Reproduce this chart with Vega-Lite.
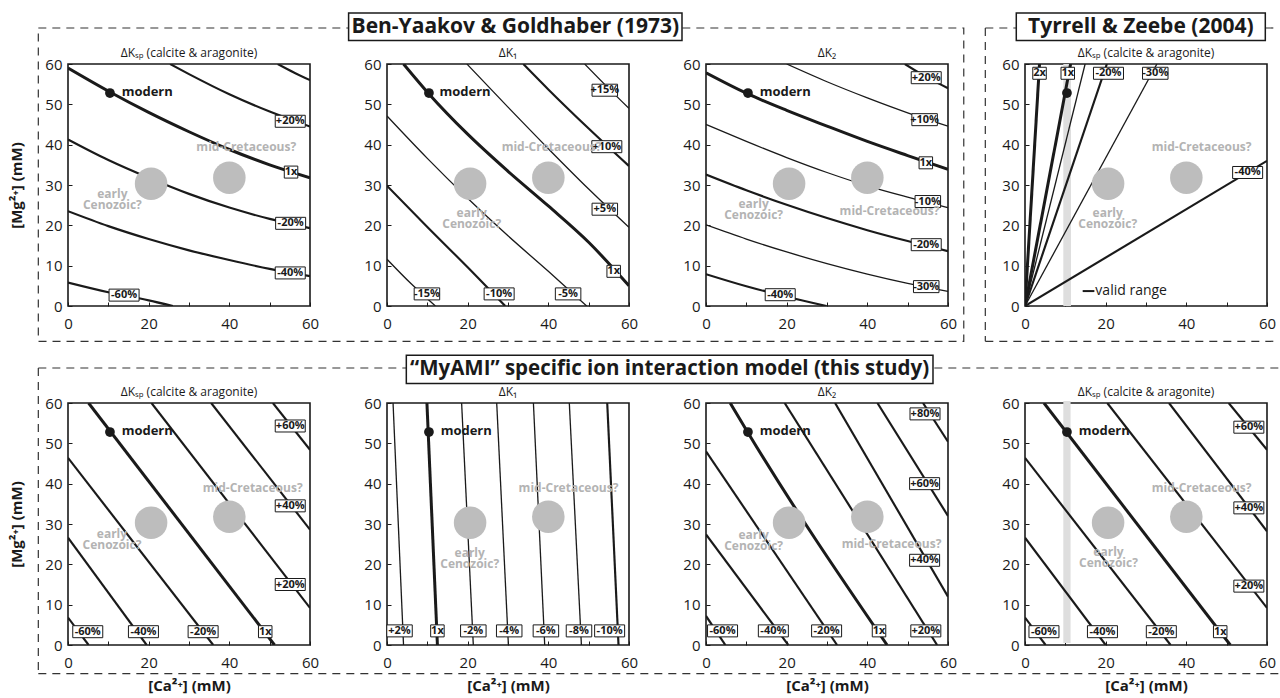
{
"$schema": "https://vega.github.io/schema/vega-lite/v6.json",
"background": "white",
"padding": {"left": 9, "top": 11, "right": 0, "bottom": 0},
"columns": 4,
"spacing": {"row": 97, "column": 77},
"bounds": "flush",
"config": {
  "font": "Open Sans",
  "view": {"stroke": "#1a1a1a", "strokeWidth": 1.6},
  "axis": {"domain": false, "grid": false, "tickSize": -4, "tickColor": "#1a1a1a", "tickWidth": 1, "labelFontSize": 15, "labelColor": "#1a1a1a", "labelFlush": false, "labelOverlap": false, "titleFontSize": 15, "titleFontWeight": "bold", "titleColor": "#1a1a1a"},
  "axisX": {"labelPadding": 14},
  "axisY": {"labelPadding": 10}
},
"datasets": {
  "sites": [
    {"site": "modern", "ca": 10.4, "mg": 52.8},
    {"site": "early Cenozoic", "ca": 20.6, "mg": 30.3},
    {"site": "mid-Cretaceous", "ca": 40, "mg": 31.8}
  ],
  "valid": [
    {"panel": 4, "ca": 9.5, "ca2": 11.4, "mg": 0, "mg2": 60},
    {"panel": 8, "ca": 9.5, "ca2": 11.3, "mg": 0.5, "mg2": 60.5}
  ],
  "notes": [
    {"panel": 1, "note": "modern", "ca": 13.3, "mg": 53.1},
    {"panel": 1, "note": "mid-Cretaceous?", "ca": 44.2, "mg": 39.3},
    {"panel": 1, "note": "early\nCenozoic?", "ca": 11, "mg": 28.9},
    {"panel": 2, "note": "modern", "ca": 13, "mg": 53.1},
    {"panel": 2, "note": "mid-Cretaceous?", "ca": 40.8, "mg": 39.3},
    {"panel": 2, "note": "early\nCenozoic?", "ca": 21, "mg": 24.4},
    {"panel": 3, "note": "modern", "ca": 13.3, "mg": 53.1},
    {"panel": 3, "note": "mid-Cretaceous?", "ca": 45.5, "mg": 23.6},
    {"panel": 3, "note": "early\nCenozoic?", "ca": 11.8, "mg": 26.5},
    {"panel": 4, "note": "mid-Cretaceous?", "ca": 43.8, "mg": 39.3},
    {"panel": 4, "note": "early\nCenozoic?", "ca": 20.5, "mg": 24.4},
    {"panel": 5, "note": "modern", "ca": 13.3, "mg": 53.1},
    {"panel": 5, "note": "mid-Cretaceous?", "ca": 45.8, "mg": 39},
    {"panel": 5, "note": "early\nCenozoic?", "ca": 10.9, "mg": 28.7},
    {"panel": 6, "note": "modern", "ca": 13.3, "mg": 53.1},
    {"panel": 6, "note": "mid-Cretaceous?", "ca": 45, "mg": 39},
    {"panel": 6, "note": "early\nCenozoic?", "ca": 20.5, "mg": 24.1},
    {"panel": 7, "note": "modern", "ca": 13.3, "mg": 53.1},
    {"panel": 7, "note": "mid-Cretaceous?", "ca": 46, "mg": 25},
    {"panel": 7, "note": "early\nCenozoic?", "ca": 11.8, "mg": 28.4},
    {"panel": 8, "note": "modern", "ca": 13.3, "mg": 53.1},
    {"panel": 8, "note": "mid-Cretaceous?", "ca": 43.8, "mg": 39},
    {"panel": 8, "note": "early\nCenozoic?", "ca": 20.7, "mg": 24.3}
  ],
  "labels": [
    {"panel": 1, "level": "+20%", "kind": "major", "ca": 55.1, "mg": 45.8},
    {"panel": 1, "level": "1x", "kind": "ref", "ca": 55.3, "mg": 33.2},
    {"panel": 1, "level": "-20%", "kind": "major", "ca": 55.2, "mg": 20.5},
    {"panel": 1, "level": "-40%", "kind": "major", "ca": 55.1, "mg": 8.2},
    {"panel": 1, "level": "-60%", "kind": "major", "ca": 13.9, "mg": 2.7},
    {"panel": 2, "level": "+15%", "kind": "minor", "ca": 54, "mg": 53.5},
    {"panel": 2, "level": "+10%", "kind": "major", "ca": 54.5, "mg": 39.5},
    {"panel": 2, "level": "+5%", "kind": "minor", "ca": 54, "mg": 24},
    {"panel": 2, "level": "1x", "kind": "ref", "ca": 56.2, "mg": 8.6},
    {"panel": 2, "level": "-5%", "kind": "minor", "ca": 44.9, "mg": 3},
    {"panel": 2, "level": "-10%", "kind": "major", "ca": 27.8, "mg": 3},
    {"panel": 2, "level": "-15%", "kind": "minor", "ca": 9.9, "mg": 3},
    {"panel": 3, "level": "+20%", "kind": "major", "ca": 54.6, "mg": 56.6},
    {"panel": 3, "level": "+10%", "kind": "minor", "ca": 54.2, "mg": 46.2},
    {"panel": 3, "level": "1x", "kind": "ref", "ca": 54.5, "mg": 35.5},
    {"panel": 3, "level": "-10%", "kind": "minor", "ca": 55, "mg": 25.9},
    {"panel": 3, "level": "-20%", "kind": "major", "ca": 54.6, "mg": 15.2},
    {"panel": 3, "level": "-30%", "kind": "minor", "ca": 54.6, "mg": 4.8},
    {"panel": 3, "level": "-40%", "kind": "major", "ca": 18.4, "mg": 2.8},
    {"panel": 4, "level": "2x", "kind": "ref", "ca": 3.6, "mg": 57.7},
    {"panel": 4, "level": "1x", "kind": "ref", "ca": 10.6, "mg": 57.7},
    {"panel": 4, "level": "-20%", "kind": "major", "ca": 20.7, "mg": 57.7},
    {"panel": 4, "level": "-30%", "kind": "minor", "ca": 32.3, "mg": 57.7},
    {"panel": 4, "level": "-40%", "kind": "major", "ca": 55.2, "mg": 33.1},
    {"panel": 5, "level": "+60%", "kind": "major", "ca": 55.1, "mg": 54.3},
    {"panel": 5, "level": "+40%", "kind": "major", "ca": 55.1, "mg": 34.5},
    {"panel": 5, "level": "+20%", "kind": "major", "ca": 55.1, "mg": 15},
    {"panel": 5, "level": "1x", "kind": "ref", "ca": 48.9, "mg": 3.3},
    {"panel": 5, "level": "-20%", "kind": "major", "ca": 33.5, "mg": 3.3},
    {"panel": 5, "level": "-40%", "kind": "major", "ca": 18.7, "mg": 3.3},
    {"panel": 5, "level": "-60%", "kind": "major", "ca": 4.9, "mg": 3.3},
    {"panel": 6, "level": "+2%", "kind": "minor", "ca": 3.1, "mg": 3.5},
    {"panel": 6, "level": "1x", "kind": "ref", "ca": 12.5, "mg": 3.5},
    {"panel": 6, "level": "-2%", "kind": "minor", "ca": 21.4, "mg": 3.5},
    {"panel": 6, "level": "-4%", "kind": "minor", "ca": 30.3, "mg": 3.5},
    {"panel": 6, "level": "-6%", "kind": "minor", "ca": 39.4, "mg": 3.5},
    {"panel": 6, "level": "-8%", "kind": "minor", "ca": 47.6, "mg": 3.5},
    {"panel": 6, "level": "-10%", "kind": "major", "ca": 55.2, "mg": 3.5},
    {"panel": 7, "level": "+80%", "kind": "major", "ca": 54.3, "mg": 57.3},
    {"panel": 7, "level": "+60%", "kind": "major", "ca": 54.2, "mg": 40},
    {"panel": 7, "level": "+40%", "kind": "major", "ca": 54.2, "mg": 21},
    {"panel": 7, "level": "+20%", "kind": "major", "ca": 54.5, "mg": 3.5},
    {"panel": 7, "level": "1x", "kind": "ref", "ca": 42.9, "mg": 3.5},
    {"panel": 7, "level": "-20%", "kind": "major", "ca": 29.9, "mg": 3.5},
    {"panel": 7, "level": "-40%", "kind": "major", "ca": 16.7, "mg": 3.5},
    {"panel": 7, "level": "-60%", "kind": "major", "ca": 4.1, "mg": 3.5},
    {"panel": 8, "level": "+60%", "kind": "major", "ca": 55.5, "mg": 54},
    {"panel": 8, "level": "+40%", "kind": "major", "ca": 55.5, "mg": 34},
    {"panel": 8, "level": "+20%", "kind": "major", "ca": 55.5, "mg": 14.6},
    {"panel": 8, "level": "1x", "kind": "ref", "ca": 48.4, "mg": 3.3},
    {"panel": 8, "level": "-20%", "kind": "major", "ca": 33.8, "mg": 3.3},
    {"panel": 8, "level": "-40%", "kind": "major", "ca": 19.2, "mg": 3.3},
    {"panel": 8, "level": "-60%", "kind": "major", "ca": 4.7, "mg": 3.3}
  ],
  "contours": [
    {"panel": 1, "level": "+40%", "kind": "major", "ca": 52, "mg": 60},
    {"panel": 1, "level": "+40%", "kind": "major", "ca": 56, "mg": 57.9},
    {"panel": 1, "level": "+40%", "kind": "major", "ca": 60, "mg": 56},
    {"panel": 1, "level": "+20%", "kind": "major", "ca": 25.3, "mg": 60},
    {"panel": 1, "level": "+20%", "kind": "major", "ca": 30, "mg": 57.5},
    {"panel": 1, "level": "+20%", "kind": "major", "ca": 40, "mg": 52.5},
    {"panel": 1, "level": "+20%", "kind": "major", "ca": 50, "mg": 48.2},
    {"panel": 1, "level": "+20%", "kind": "major", "ca": 60, "mg": 44.5},
    {"panel": 1, "level": "1x", "kind": "ref", "ca": 0, "mg": 59},
    {"panel": 1, "level": "1x", "kind": "ref", "ca": 10.5, "mg": 53},
    {"panel": 1, "level": "1x", "kind": "ref", "ca": 20, "mg": 48},
    {"panel": 1, "level": "1x", "kind": "ref", "ca": 30, "mg": 43.2},
    {"panel": 1, "level": "1x", "kind": "ref", "ca": 40, "mg": 38.8},
    {"panel": 1, "level": "1x", "kind": "ref", "ca": 50, "mg": 35},
    {"panel": 1, "level": "1x", "kind": "ref", "ca": 60, "mg": 31.8},
    {"panel": 1, "level": "-20%", "kind": "major", "ca": 0, "mg": 41.3},
    {"panel": 1, "level": "-20%", "kind": "major", "ca": 10, "mg": 36.2},
    {"panel": 1, "level": "-20%", "kind": "major", "ca": 20, "mg": 31.8},
    {"panel": 1, "level": "-20%", "kind": "major", "ca": 30, "mg": 27.8},
    {"panel": 1, "level": "-20%", "kind": "major", "ca": 40, "mg": 24.4},
    {"panel": 1, "level": "-20%", "kind": "major", "ca": 50, "mg": 21.6},
    {"panel": 1, "level": "-20%", "kind": "major", "ca": 60, "mg": 19.3},
    {"panel": 1, "level": "-40%", "kind": "major", "ca": 0, "mg": 23.5},
    {"panel": 1, "level": "-40%", "kind": "major", "ca": 10, "mg": 19.8},
    {"panel": 1, "level": "-40%", "kind": "major", "ca": 20, "mg": 16.6},
    {"panel": 1, "level": "-40%", "kind": "major", "ca": 30, "mg": 13.8},
    {"panel": 1, "level": "-40%", "kind": "major", "ca": 40, "mg": 11.4},
    {"panel": 1, "level": "-40%", "kind": "major", "ca": 50, "mg": 9.2},
    {"panel": 1, "level": "-40%", "kind": "major", "ca": 60, "mg": 7.4},
    {"panel": 1, "level": "-60%", "kind": "major", "ca": 0, "mg": 5.8},
    {"panel": 1, "level": "-60%", "kind": "major", "ca": 10, "mg": 3.4},
    {"panel": 1, "level": "-60%", "kind": "major", "ca": 20, "mg": 1.4},
    {"panel": 1, "level": "-60%", "kind": "major", "ca": 26, "mg": 0},
    {"panel": 2, "level": "+15%", "kind": "minor", "ca": 49, "mg": 60},
    {"panel": 2, "level": "+15%", "kind": "minor", "ca": 54.5, "mg": 54.4},
    {"panel": 2, "level": "+15%", "kind": "minor", "ca": 60, "mg": 49},
    {"panel": 2, "level": "+10%", "kind": "major", "ca": 33.8, "mg": 60},
    {"panel": 2, "level": "+10%", "kind": "major", "ca": 40, "mg": 53.7},
    {"panel": 2, "level": "+10%", "kind": "major", "ca": 50, "mg": 44},
    {"panel": 2, "level": "+10%", "kind": "major", "ca": 60, "mg": 34.7},
    {"panel": 2, "level": "+5%", "kind": "minor", "ca": 19.8, "mg": 60},
    {"panel": 2, "level": "+5%", "kind": "minor", "ca": 30, "mg": 49.3},
    {"panel": 2, "level": "+5%", "kind": "minor", "ca": 40, "mg": 39},
    {"panel": 2, "level": "+5%", "kind": "minor", "ca": 50, "mg": 29},
    {"panel": 2, "level": "+5%", "kind": "minor", "ca": 60, "mg": 19.5},
    {"panel": 2, "level": "1x", "kind": "ref", "ca": 4.1, "mg": 60},
    {"panel": 2, "level": "1x", "kind": "ref", "ca": 10.3, "mg": 52.7},
    {"panel": 2, "level": "1x", "kind": "ref", "ca": 20, "mg": 42.6},
    {"panel": 2, "level": "1x", "kind": "ref", "ca": 30, "mg": 33.4},
    {"panel": 2, "level": "1x", "kind": "ref", "ca": 40, "mg": 24.8},
    {"panel": 2, "level": "1x", "kind": "ref", "ca": 50, "mg": 15.8},
    {"panel": 2, "level": "1x", "kind": "ref", "ca": 60, "mg": 5},
    {"panel": 2, "level": "-5%", "kind": "minor", "ca": 0, "mg": 47.1},
    {"panel": 2, "level": "-5%", "kind": "minor", "ca": 10, "mg": 36.6},
    {"panel": 2, "level": "-5%", "kind": "minor", "ca": 20, "mg": 26.7},
    {"panel": 2, "level": "-5%", "kind": "minor", "ca": 30, "mg": 17.4},
    {"panel": 2, "level": "-5%", "kind": "minor", "ca": 40, "mg": 8.6},
    {"panel": 2, "level": "-5%", "kind": "minor", "ca": 49.5, "mg": 0},
    {"panel": 2, "level": "-10%", "kind": "major", "ca": 0, "mg": 29.8},
    {"panel": 2, "level": "-10%", "kind": "major", "ca": 10, "mg": 19.6},
    {"panel": 2, "level": "-10%", "kind": "major", "ca": 20, "mg": 9.6},
    {"panel": 2, "level": "-10%", "kind": "major", "ca": 29.3, "mg": 0},
    {"panel": 2, "level": "-15%", "kind": "minor", "ca": 0, "mg": 11.6},
    {"panel": 2, "level": "-15%", "kind": "minor", "ca": 6, "mg": 5.5},
    {"panel": 2, "level": "-15%", "kind": "minor", "ca": 12, "mg": 0},
    {"panel": 3, "level": "+20%", "kind": "major", "ca": 49.3, "mg": 60},
    {"panel": 3, "level": "+20%", "kind": "major", "ca": 54.6, "mg": 56.8},
    {"panel": 3, "level": "+20%", "kind": "major", "ca": 60, "mg": 54},
    {"panel": 3, "level": "+10%", "kind": "minor", "ca": 20, "mg": 60},
    {"panel": 3, "level": "+10%", "kind": "minor", "ca": 30, "mg": 55.6},
    {"panel": 3, "level": "+10%", "kind": "minor", "ca": 40, "mg": 51.6},
    {"panel": 3, "level": "+10%", "kind": "minor", "ca": 50, "mg": 47.9},
    {"panel": 3, "level": "+10%", "kind": "minor", "ca": 60, "mg": 44.6},
    {"panel": 3, "level": "1x", "kind": "ref", "ca": 0, "mg": 57.8},
    {"panel": 3, "level": "1x", "kind": "ref", "ca": 10.1, "mg": 52.7},
    {"panel": 3, "level": "1x", "kind": "ref", "ca": 20, "mg": 48.5},
    {"panel": 3, "level": "1x", "kind": "ref", "ca": 30, "mg": 44.6},
    {"panel": 3, "level": "1x", "kind": "ref", "ca": 40, "mg": 40.8},
    {"panel": 3, "level": "1x", "kind": "ref", "ca": 50, "mg": 37.3},
    {"panel": 3, "level": "1x", "kind": "ref", "ca": 60, "mg": 33.9},
    {"panel": 3, "level": "-10%", "kind": "minor", "ca": 0, "mg": 45},
    {"panel": 3, "level": "-10%", "kind": "minor", "ca": 10, "mg": 40.8},
    {"panel": 3, "level": "-10%", "kind": "minor", "ca": 20, "mg": 36.8},
    {"panel": 3, "level": "-10%", "kind": "minor", "ca": 30, "mg": 33.1},
    {"panel": 3, "level": "-10%", "kind": "minor", "ca": 40, "mg": 29.8},
    {"panel": 3, "level": "-10%", "kind": "minor", "ca": 50, "mg": 27},
    {"panel": 3, "level": "-10%", "kind": "minor", "ca": 60, "mg": 24.4},
    {"panel": 3, "level": "-20%", "kind": "major", "ca": 0, "mg": 32.6},
    {"panel": 3, "level": "-20%", "kind": "major", "ca": 10, "mg": 28.7},
    {"panel": 3, "level": "-20%", "kind": "major", "ca": 20, "mg": 25.1},
    {"panel": 3, "level": "-20%", "kind": "major", "ca": 30, "mg": 21.8},
    {"panel": 3, "level": "-20%", "kind": "major", "ca": 40, "mg": 18.8},
    {"panel": 3, "level": "-20%", "kind": "major", "ca": 50, "mg": 16.1},
    {"panel": 3, "level": "-20%", "kind": "major", "ca": 60, "mg": 13.6},
    {"panel": 3, "level": "-30%", "kind": "minor", "ca": 0, "mg": 20.1},
    {"panel": 3, "level": "-30%", "kind": "minor", "ca": 10, "mg": 16.6},
    {"panel": 3, "level": "-30%", "kind": "minor", "ca": 20, "mg": 13.4},
    {"panel": 3, "level": "-30%", "kind": "minor", "ca": 30, "mg": 10.5},
    {"panel": 3, "level": "-30%", "kind": "minor", "ca": 40, "mg": 7.9},
    {"panel": 3, "level": "-30%", "kind": "minor", "ca": 50, "mg": 5.6},
    {"panel": 3, "level": "-30%", "kind": "minor", "ca": 60, "mg": 3.6},
    {"panel": 3, "level": "-40%", "kind": "major", "ca": 0, "mg": 7.9},
    {"panel": 3, "level": "-40%", "kind": "major", "ca": 10, "mg": 4.9},
    {"panel": 3, "level": "-40%", "kind": "major", "ca": 20, "mg": 2.3},
    {"panel": 3, "level": "-40%", "kind": "major", "ca": 29.9, "mg": 0},
    {"panel": 4, "level": "2x", "kind": "ref", "ca": 0, "mg": 0},
    {"panel": 4, "level": "2x", "kind": "ref", "ca": 3.6, "mg": 60},
    {"panel": 4, "level": "1x", "kind": "ref", "ca": 0, "mg": 0},
    {"panel": 4, "level": "1x", "kind": "ref", "ca": 11.3, "mg": 60},
    {"panel": 4, "level": "-10%", "kind": "minor", "ca": 0, "mg": 0},
    {"panel": 4, "level": "-10%", "kind": "minor", "ca": 14.9, "mg": 60},
    {"panel": 4, "level": "-20%", "kind": "major", "ca": 0, "mg": 0},
    {"panel": 4, "level": "-20%", "kind": "major", "ca": 20.3, "mg": 60},
    {"panel": 4, "level": "-30%", "kind": "minor", "ca": 0, "mg": 0},
    {"panel": 4, "level": "-30%", "kind": "minor", "ca": 32.7, "mg": 60},
    {"panel": 4, "level": "-40%", "kind": "major", "ca": 0, "mg": 0},
    {"panel": 4, "level": "-40%", "kind": "major", "ca": 60, "mg": 36},
    {"panel": 5, "level": "+60%", "kind": "major", "ca": 50.8, "mg": 60},
    {"panel": 5, "level": "+60%", "kind": "major", "ca": 60, "mg": 48.4},
    {"panel": 5, "level": "+40%", "kind": "major", "ca": 35.5, "mg": 60},
    {"panel": 5, "level": "+40%", "kind": "major", "ca": 60, "mg": 28.6},
    {"panel": 5, "level": "+20%", "kind": "major", "ca": 20.7, "mg": 60},
    {"panel": 5, "level": "+20%", "kind": "major", "ca": 60, "mg": 9.2},
    {"panel": 5, "level": "1x", "kind": "ref", "ca": 5.1, "mg": 60},
    {"panel": 5, "level": "1x", "kind": "ref", "ca": 51.2, "mg": 0},
    {"panel": 5, "level": "-20%", "kind": "major", "ca": 0, "mg": 46.4},
    {"panel": 5, "level": "-20%", "kind": "major", "ca": 36, "mg": 0},
    {"panel": 5, "level": "-40%", "kind": "major", "ca": 0, "mg": 26.6},
    {"panel": 5, "level": "-40%", "kind": "major", "ca": 19.5, "mg": 0},
    {"panel": 5, "level": "-60%", "kind": "major", "ca": 0, "mg": 6.8},
    {"panel": 5, "level": "-60%", "kind": "major", "ca": 5.1, "mg": 0},
    {"panel": 6, "level": "+2%", "kind": "minor", "ca": 1.5, "mg": 60},
    {"panel": 6, "level": "+2%", "kind": "minor", "ca": 4.1, "mg": 0},
    {"panel": 6, "level": "1x", "kind": "ref", "ca": 9.9, "mg": 60},
    {"panel": 6, "level": "1x", "kind": "ref", "ca": 12.5, "mg": 0},
    {"panel": 6, "level": "-2%", "kind": "minor", "ca": 18.5, "mg": 60},
    {"panel": 6, "level": "-2%", "kind": "minor", "ca": 21.4, "mg": 0},
    {"panel": 6, "level": "-4%", "kind": "minor", "ca": 27.2, "mg": 60},
    {"panel": 6, "level": "-4%", "kind": "minor", "ca": 30.1, "mg": 0},
    {"panel": 6, "level": "-6%", "kind": "minor", "ca": 36.3, "mg": 60},
    {"panel": 6, "level": "-6%", "kind": "minor", "ca": 39.1, "mg": 0},
    {"panel": 6, "level": "-8%", "kind": "minor", "ca": 45.2, "mg": 60},
    {"panel": 6, "level": "-8%", "kind": "minor", "ca": 48.2, "mg": 0},
    {"panel": 6, "level": "-10%", "kind": "major", "ca": 54.6, "mg": 60},
    {"panel": 6, "level": "-10%", "kind": "major", "ca": 57.4, "mg": 0},
    {"panel": 7, "level": "+80%", "kind": "major", "ca": 53.8, "mg": 60},
    {"panel": 7, "level": "+80%", "kind": "major", "ca": 60, "mg": 50.4},
    {"panel": 7, "level": "+60%", "kind": "major", "ca": 42.5, "mg": 60},
    {"panel": 7, "level": "+60%", "kind": "major", "ca": 60, "mg": 32},
    {"panel": 7, "level": "+40%", "kind": "major", "ca": 32, "mg": 60},
    {"panel": 7, "level": "+40%", "kind": "major", "ca": 60, "mg": 12},
    {"panel": 7, "level": "+20%", "kind": "major", "ca": 19.5, "mg": 60},
    {"panel": 7, "level": "+20%", "kind": "major", "ca": 57.3, "mg": 0},
    {"panel": 7, "level": "1x", "kind": "ref", "ca": 6, "mg": 60},
    {"panel": 7, "level": "1x", "kind": "ref", "ca": 10.3, "mg": 52.8},
    {"panel": 7, "level": "1x", "kind": "ref", "ca": 44.9, "mg": 0},
    {"panel": 7, "level": "-20%", "kind": "major", "ca": 0, "mg": 48},
    {"panel": 7, "level": "-20%", "kind": "major", "ca": 32.5, "mg": 0},
    {"panel": 7, "level": "-40%", "kind": "major", "ca": 0, "mg": 27.4},
    {"panel": 7, "level": "-40%", "kind": "major", "ca": 20.4, "mg": 0},
    {"panel": 7, "level": "-60%", "kind": "major", "ca": 0, "mg": 7.2},
    {"panel": 7, "level": "-60%", "kind": "major", "ca": 4.8, "mg": 0},
    {"panel": 8, "level": "+60%", "kind": "major", "ca": 50.5, "mg": 60},
    {"panel": 8, "level": "+60%", "kind": "major", "ca": 60, "mg": 48.4},
    {"panel": 8, "level": "+40%", "kind": "major", "ca": 35.7, "mg": 60},
    {"panel": 8, "level": "+40%", "kind": "major", "ca": 60, "mg": 28.2},
    {"panel": 8, "level": "+20%", "kind": "major", "ca": 20.4, "mg": 60},
    {"panel": 8, "level": "+20%", "kind": "major", "ca": 60, "mg": 9.2},
    {"panel": 8, "level": "1x", "kind": "ref", "ca": 4.7, "mg": 60},
    {"panel": 8, "level": "1x", "kind": "ref", "ca": 50.9, "mg": 0},
    {"panel": 8, "level": "-20%", "kind": "major", "ca": 0, "mg": 46.4},
    {"panel": 8, "level": "-20%", "kind": "major", "ca": 36.1, "mg": 0},
    {"panel": 8, "level": "-40%", "kind": "major", "ca": 0, "mg": 26.6},
    {"panel": 8, "level": "-40%", "kind": "major", "ca": 20, "mg": 0},
    {"panel": 8, "level": "-60%", "kind": "major", "ca": 0, "mg": 6.8},
    {"panel": 8, "level": "-60%", "kind": "major", "ca": 5.1, "mg": 0}
  ]
},
"concat": [
{
  "width": 242, "height": 242,
  "layer": [
    {"data": {"name": "contours"}, "transform": [{"filter": "datum.panel === 1"}], "mark": {"type": "line", "interpolate": "monotone", "clip": true, "color": "#1a1a1a"}, "encoding": {
      "x": {"field": "ca", "type": "quantitative", "scale": {"domain": [0, 60], "nice": false, "zero": false}, "axis": {"values": [0, 10, 20, 30, 40, 50, 60], "labelExpr": "datum.value % 20 === 0 ? datum.label : ''", "title": null}},
      "y": {"field": "mg", "type": "quantitative", "scale": {"domain": [0, 60], "nice": false, "zero": false}, "axis": {"values": [0, 10, 20, 30, 40, 50, 60], "title": "[Mg²⁺] (mM)", "titlePadding": 20}},
      "detail": {"field": "level"}, "strokeWidth": {"field": "kind", "type": "nominal", "scale": {"domain": ["ref", "major", "minor"], "range": [3, 1.3, 0.75]}, "legend": null}}},
    {"data": {"values": [{}]}, "mark": {"type": "text", "text": "ΔKₛₚ (calcite & aragonite)", "fontSize": 12, "baseline": "middle", "color": "#1a1a1a"}, "encoding": {"x": {"datum": 30}, "y": {"datum": 62.7}}},
    {"data": {"name": "sites"}, "transform": [{"filter": "datum.site !== 'modern'"}], "mark": {"type": "circle", "size": 1060, "color": "#bdbdbd", "opacity": 1}, "encoding": {"x": {"field": "ca", "type": "quantitative"}, "y": {"field": "mg", "type": "quantitative"}}},
    {"data": {"name": "sites"}, "transform": [{"filter": "datum.site === 'modern'"}], "mark": {"type": "circle", "size": 95, "color": "#1a1a1a", "opacity": 1}, "encoding": {"x": {"field": "ca", "type": "quantitative"}, "y": {"field": "mg", "type": "quantitative"}}},
    {"data": {"name": "labels"}, "transform": [{"filter": "datum.panel === 1"}], "mark": {"type": "point", "filled": true, "fill": "#ffffff", "stroke": "#1a1a1a", "strokeWidth": 1, "size": 900, "opacity": 1}, "encoding": {"x": {"field": "ca", "type": "quantitative"}, "y": {"field": "mg", "type": "quantitative"}, "shape": {"field": "kind", "type": "nominal", "scale": {"domain": ["ref", "major", "minor"], "range": ["M-0.45,-0.4H0.45V0.4H-0.45Z", "M-1,-0.4H1V0.4H-1Z", "M-0.85,-0.4H0.85V0.4H-0.85Z"]}, "legend": null}, "strokeOpacity": {"field": "kind", "type": "nominal", "scale": {"domain": ["ref", "major", "minor"], "range": [1, 1, 0]}, "legend": null}}},
    {"data": {"name": "labels"}, "transform": [{"filter": "datum.panel === 1"}], "mark": {"type": "text", "fontSize": 11, "fontWeight": "bold", "color": "#1a1a1a", "baseline": "middle"}, "encoding": {"x": {"field": "ca", "type": "quantitative"}, "y": {"field": "mg", "type": "quantitative"}, "text": {"field": "level"}}},
    {"data": {"name": "notes"}, "transform": [{"filter": "datum.panel === 1 && datum.note === 'modern'"}], "mark": {"type": "text", "align": "left", "baseline": "middle", "fontSize": 13, "fontWeight": "bold", "color": "#1a1a1a"}, "encoding": {"x": {"field": "ca", "type": "quantitative"}, "y": {"field": "mg", "type": "quantitative"}, "text": {"field": "note"}}},
    {"data": {"name": "notes"}, "transform": [{"filter": "datum.panel === 1 && datum.note === 'mid-Cretaceous?'"}], "mark": {"type": "text", "align": "center", "baseline": "middle", "fontSize": 12, "fontWeight": "bold", "color": "#b3b3b3"}, "encoding": {"x": {"field": "ca", "type": "quantitative"}, "y": {"field": "mg", "type": "quantitative"}, "text": {"field": "note"}}},
    {"data": {"name": "notes"}, "transform": [{"filter": "datum.panel === 1 && datum.note !== 'modern' && datum.note !== 'mid-Cretaceous?'"}], "mark": {"type": "text", "align": "center", "baseline": "top", "fontSize": 12, "fontWeight": "bold", "color": "#b3b3b3", "lineBreak": "\n", "lineHeight": 11}, "encoding": {"x": {"field": "ca", "type": "quantitative"}, "y": {"field": "mg", "type": "quantitative"}, "text": {"field": "note"}}}
  ]
},
{
  "width": 242, "height": 242,
  "layer": [
    {"data": {"name": "contours"}, "transform": [{"filter": "datum.panel === 2"}], "mark": {"type": "line", "interpolate": "monotone", "clip": true, "color": "#1a1a1a"}, "encoding": {
      "x": {"field": "ca", "type": "quantitative", "scale": {"domain": [0, 60], "nice": false, "zero": false}, "axis": {"values": [0, 10, 20, 30, 40, 50, 60], "labelExpr": "datum.value % 20 === 0 ? datum.label : ''", "title": null}},
      "y": {"field": "mg", "type": "quantitative", "scale": {"domain": [0, 60], "nice": false, "zero": false}, "axis": {"values": [0, 10, 20, 30, 40, 50, 60], "title": null}},
      "detail": {"field": "level"}, "strokeWidth": {"field": "kind", "type": "nominal", "scale": {"domain": ["ref", "major", "minor"], "range": [3, 1.3, 0.75]}, "legend": null}}},
    {"data": {"values": [{}]}, "mark": {"type": "text", "text": "ΔK₁", "fontSize": 12, "baseline": "middle", "color": "#1a1a1a"}, "encoding": {"x": {"datum": 30}, "y": {"datum": 62.7}}},
    {"data": {"values": [{}]}, "mark": {"type": "rect", "filled": false, "stroke": "#333333", "strokeWidth": 1.2, "strokeDash": [8, 6]}, "encoding": {"x": {"datum": -86.45}, "x2": {"datum": 143.0}, "y": {"datum": 68.93}, "y2": {"datum": -8.75}}},
    {"data": {"values": [{}]}, "mark": {"type": "rect", "fill": "#ffffff", "stroke": "#1a1a1a", "strokeWidth": 1.5}, "encoding": {"x": {"datum": -9.52}, "x2": {"datum": 73.14}, "y": {"datum": 72.65}, "y2": {"datum": 65.8}}},
    {"data": {"values": [{}]}, "mark": {"type": "text", "text": "Ben-Yaakov & Goldhaber (1973)", "fontSize": 21, "fontWeight": "bold", "align": "center", "baseline": "middle", "color": "#1a1a1a"}, "encoding": {"x": {"datum": 31.81}, "y": {"datum": 69.22}}},
    {"data": {"name": "sites"}, "transform": [{"filter": "datum.site !== 'modern'"}], "mark": {"type": "circle", "size": 1060, "color": "#bdbdbd", "opacity": 1}, "encoding": {"x": {"field": "ca", "type": "quantitative"}, "y": {"field": "mg", "type": "quantitative"}}},
    {"data": {"name": "sites"}, "transform": [{"filter": "datum.site === 'modern'"}], "mark": {"type": "circle", "size": 95, "color": "#1a1a1a", "opacity": 1}, "encoding": {"x": {"field": "ca", "type": "quantitative"}, "y": {"field": "mg", "type": "quantitative"}}},
    {"data": {"name": "labels"}, "transform": [{"filter": "datum.panel === 2"}], "mark": {"type": "point", "filled": true, "fill": "#ffffff", "stroke": "#1a1a1a", "strokeWidth": 1, "size": 900, "opacity": 1}, "encoding": {"x": {"field": "ca", "type": "quantitative"}, "y": {"field": "mg", "type": "quantitative"}, "shape": {"field": "kind", "type": "nominal", "scale": {"domain": ["ref", "major", "minor"], "range": ["M-0.45,-0.4H0.45V0.4H-0.45Z", "M-1,-0.4H1V0.4H-1Z", "M-0.85,-0.4H0.85V0.4H-0.85Z"]}, "legend": null}, "strokeOpacity": {"field": "kind", "type": "nominal", "scale": {"domain": ["ref", "major", "minor"], "range": [1, 1, 0]}, "legend": null}}},
    {"data": {"name": "labels"}, "transform": [{"filter": "datum.panel === 2"}], "mark": {"type": "text", "fontSize": 11, "fontWeight": "bold", "color": "#1a1a1a", "baseline": "middle"}, "encoding": {"x": {"field": "ca", "type": "quantitative"}, "y": {"field": "mg", "type": "quantitative"}, "text": {"field": "level"}}},
    {"data": {"name": "notes"}, "transform": [{"filter": "datum.panel === 2 && datum.note === 'modern'"}], "mark": {"type": "text", "align": "left", "baseline": "middle", "fontSize": 13, "fontWeight": "bold", "color": "#1a1a1a"}, "encoding": {"x": {"field": "ca", "type": "quantitative"}, "y": {"field": "mg", "type": "quantitative"}, "text": {"field": "note"}}},
    {"data": {"name": "notes"}, "transform": [{"filter": "datum.panel === 2 && datum.note === 'mid-Cretaceous?'"}], "mark": {"type": "text", "align": "center", "baseline": "middle", "fontSize": 12, "fontWeight": "bold", "color": "#b3b3b3"}, "encoding": {"x": {"field": "ca", "type": "quantitative"}, "y": {"field": "mg", "type": "quantitative"}, "text": {"field": "note"}}},
    {"data": {"name": "notes"}, "transform": [{"filter": "datum.panel === 2 && datum.note !== 'modern' && datum.note !== 'mid-Cretaceous?'"}], "mark": {"type": "text", "align": "center", "baseline": "top", "fontSize": 12, "fontWeight": "bold", "color": "#b3b3b3", "lineBreak": "\n", "lineHeight": 11}, "encoding": {"x": {"field": "ca", "type": "quantitative"}, "y": {"field": "mg", "type": "quantitative"}, "text": {"field": "note"}}}
  ]
},
{
  "width": 242, "height": 242,
  "layer": [
    {"data": {"name": "contours"}, "transform": [{"filter": "datum.panel === 3"}], "mark": {"type": "line", "interpolate": "monotone", "clip": true, "color": "#1a1a1a"}, "encoding": {
      "x": {"field": "ca", "type": "quantitative", "scale": {"domain": [0, 60], "nice": false, "zero": false}, "axis": {"values": [0, 10, 20, 30, 40, 50, 60], "labelExpr": "datum.value % 20 === 0 ? datum.label : ''", "title": null}},
      "y": {"field": "mg", "type": "quantitative", "scale": {"domain": [0, 60], "nice": false, "zero": false}, "axis": {"values": [0, 10, 20, 30, 40, 50, 60], "title": null}},
      "detail": {"field": "level"}, "strokeWidth": {"field": "kind", "type": "nominal", "scale": {"domain": ["ref", "major", "minor"], "range": [3, 1.3, 0.75]}, "legend": null}}},
    {"data": {"values": [{}]}, "mark": {"type": "text", "text": "ΔK₂", "fontSize": 12, "baseline": "middle", "color": "#1a1a1a"}, "encoding": {"x": {"datum": 30}, "y": {"datum": 62.7}}},
    {"data": {"name": "sites"}, "transform": [{"filter": "datum.site !== 'modern'"}], "mark": {"type": "circle", "size": 1060, "color": "#bdbdbd", "opacity": 1}, "encoding": {"x": {"field": "ca", "type": "quantitative"}, "y": {"field": "mg", "type": "quantitative"}}},
    {"data": {"name": "sites"}, "transform": [{"filter": "datum.site === 'modern'"}], "mark": {"type": "circle", "size": 95, "color": "#1a1a1a", "opacity": 1}, "encoding": {"x": {"field": "ca", "type": "quantitative"}, "y": {"field": "mg", "type": "quantitative"}}},
    {"data": {"name": "labels"}, "transform": [{"filter": "datum.panel === 3"}], "mark": {"type": "point", "filled": true, "fill": "#ffffff", "stroke": "#1a1a1a", "strokeWidth": 1, "size": 900, "opacity": 1}, "encoding": {"x": {"field": "ca", "type": "quantitative"}, "y": {"field": "mg", "type": "quantitative"}, "shape": {"field": "kind", "type": "nominal", "scale": {"domain": ["ref", "major", "minor"], "range": ["M-0.45,-0.4H0.45V0.4H-0.45Z", "M-1,-0.4H1V0.4H-1Z", "M-0.85,-0.4H0.85V0.4H-0.85Z"]}, "legend": null}, "strokeOpacity": {"field": "kind", "type": "nominal", "scale": {"domain": ["ref", "major", "minor"], "range": [1, 1, 0]}, "legend": null}}},
    {"data": {"name": "labels"}, "transform": [{"filter": "datum.panel === 3"}], "mark": {"type": "text", "fontSize": 11, "fontWeight": "bold", "color": "#1a1a1a", "baseline": "middle"}, "encoding": {"x": {"field": "ca", "type": "quantitative"}, "y": {"field": "mg", "type": "quantitative"}, "text": {"field": "level"}}},
    {"data": {"name": "notes"}, "transform": [{"filter": "datum.panel === 3 && datum.note === 'modern'"}], "mark": {"type": "text", "align": "left", "baseline": "middle", "fontSize": 13, "fontWeight": "bold", "color": "#1a1a1a"}, "encoding": {"x": {"field": "ca", "type": "quantitative"}, "y": {"field": "mg", "type": "quantitative"}, "text": {"field": "note"}}},
    {"data": {"name": "notes"}, "transform": [{"filter": "datum.panel === 3 && datum.note === 'mid-Cretaceous?'"}], "mark": {"type": "text", "align": "center", "baseline": "middle", "fontSize": 12, "fontWeight": "bold", "color": "#b3b3b3"}, "encoding": {"x": {"field": "ca", "type": "quantitative"}, "y": {"field": "mg", "type": "quantitative"}, "text": {"field": "note"}}},
    {"data": {"name": "notes"}, "transform": [{"filter": "datum.panel === 3 && datum.note !== 'modern' && datum.note !== 'mid-Cretaceous?'"}], "mark": {"type": "text", "align": "center", "baseline": "top", "fontSize": 12, "fontWeight": "bold", "color": "#b3b3b3", "lineBreak": "\n", "lineHeight": 11}, "encoding": {"x": {"field": "ca", "type": "quantitative"}, "y": {"field": "mg", "type": "quantitative"}, "text": {"field": "note"}}}
  ]
},
{
  "width": 242, "height": 242,
  "layer": [
    {"data": {"name": "valid"}, "transform": [{"filter": "datum.panel === 4"}], "mark": {"type": "rect", "color": "#dedede"}, "encoding": {"x": {"field": "ca", "type": "quantitative"}, "x2": {"field": "ca2"}, "y": {"field": "mg", "type": "quantitative"}, "y2": {"field": "mg2"}}},
    {"data": {"name": "contours"}, "transform": [{"filter": "datum.panel === 4"}], "mark": {"type": "line", "interpolate": "monotone", "clip": true, "color": "#1a1a1a"}, "encoding": {
      "x": {"field": "ca", "type": "quantitative", "scale": {"domain": [0, 60], "nice": false, "zero": false}, "axis": {"values": [0, 10, 20, 30, 40, 50, 60], "labelExpr": "datum.value % 20 === 0 ? datum.label : ''", "title": null}},
      "y": {"field": "mg", "type": "quantitative", "scale": {"domain": [0, 60], "nice": false, "zero": false}, "axis": {"values": [0, 10, 20, 30, 40, 50, 60], "title": null}},
      "detail": {"field": "level"}, "strokeWidth": {"field": "kind", "type": "nominal", "scale": {"domain": ["ref", "major", "minor"], "range": [3, 1.3, 0.75]}, "legend": null}}},
    {"data": {"values": [{}]}, "mark": {"type": "text", "text": "ΔKₛₚ (calcite & aragonite)", "fontSize": 12, "baseline": "middle", "color": "#1a1a1a"}, "encoding": {"x": {"datum": 30}, "y": {"datum": 62.7}}},
    {"data": {"values": [{}]}, "mark": {"type": "rule", "stroke": "#333333", "strokeWidth": 1.2, "strokeDash": [8, 6]}, "encoding": {"x": {"datum": -9.84}, "x2": {"datum": 63.05}, "y": {"datum": 68.93}}},
    {"data": {"values": [{}]}, "mark": {"type": "rule", "stroke": "#333333", "strokeWidth": 1.2, "strokeDash": [8, 6]}, "encoding": {"x": {"datum": -9.84}, "y": {"datum": 68.93}, "y2": {"datum": -8.75}}},
    {"data": {"values": [{}]}, "mark": {"type": "rule", "stroke": "#333333", "strokeWidth": 1.2, "strokeDash": [8, 6]}, "encoding": {"x": {"datum": -9.84}, "x2": {"datum": 63.05}, "y": {"datum": -8.75}}},
    {"data": {"values": [{}]}, "mark": {"type": "rect", "fill": "#ffffff", "stroke": "#1a1a1a", "strokeWidth": 1.5}, "encoding": {"x": {"datum": -2.16}, "x2": {"datum": 59.58}, "y": {"datum": 72.65}, "y2": {"datum": 65.8}}},
    {"data": {"values": [{}]}, "mark": {"type": "text", "text": "Tyrrell & Zeebe (2004)", "fontSize": 21, "fontWeight": "bold", "align": "center", "baseline": "middle", "color": "#1a1a1a"}, "encoding": {"x": {"datum": 28.71}, "y": {"datum": 69.22}}},
    {"data": {"name": "sites"}, "transform": [{"filter": "datum.site !== 'modern'"}], "mark": {"type": "circle", "size": 1060, "color": "#bdbdbd", "opacity": 1}, "encoding": {"x": {"field": "ca", "type": "quantitative"}, "y": {"field": "mg", "type": "quantitative"}}},
    {"data": {"name": "sites"}, "transform": [{"filter": "datum.site === 'modern'"}], "mark": {"type": "circle", "size": 95, "color": "#1a1a1a", "opacity": 1}, "encoding": {"x": {"field": "ca", "type": "quantitative"}, "y": {"field": "mg", "type": "quantitative"}}},
    {"data": {"name": "labels"}, "transform": [{"filter": "datum.panel === 4"}], "mark": {"type": "point", "filled": true, "fill": "#ffffff", "stroke": "#1a1a1a", "strokeWidth": 1, "size": 900, "opacity": 1}, "encoding": {"x": {"field": "ca", "type": "quantitative"}, "y": {"field": "mg", "type": "quantitative"}, "shape": {"field": "kind", "type": "nominal", "scale": {"domain": ["ref", "major", "minor"], "range": ["M-0.45,-0.4H0.45V0.4H-0.45Z", "M-1,-0.4H1V0.4H-1Z", "M-0.85,-0.4H0.85V0.4H-0.85Z"]}, "legend": null}, "strokeOpacity": {"field": "kind", "type": "nominal", "scale": {"domain": ["ref", "major", "minor"], "range": [1, 1, 0]}, "legend": null}}},
    {"data": {"name": "labels"}, "transform": [{"filter": "datum.panel === 4"}], "mark": {"type": "text", "fontSize": 11, "fontWeight": "bold", "color": "#1a1a1a", "baseline": "middle"}, "encoding": {"x": {"field": "ca", "type": "quantitative"}, "y": {"field": "mg", "type": "quantitative"}, "text": {"field": "level"}}},
    {"data": {"name": "notes"}, "transform": [{"filter": "datum.panel === 4 && datum.note === 'mid-Cretaceous?'"}], "mark": {"type": "text", "align": "center", "baseline": "middle", "fontSize": 12, "fontWeight": "bold", "color": "#b3b3b3"}, "encoding": {"x": {"field": "ca", "type": "quantitative"}, "y": {"field": "mg", "type": "quantitative"}, "text": {"field": "note"}}},
    {"data": {"name": "notes"}, "transform": [{"filter": "datum.panel === 4 && datum.note !== 'modern' && datum.note !== 'mid-Cretaceous?'"}], "mark": {"type": "text", "align": "center", "baseline": "top", "fontSize": 12, "fontWeight": "bold", "color": "#b3b3b3", "lineBreak": "\n", "lineHeight": 11}, "encoding": {"x": {"field": "ca", "type": "quantitative"}, "y": {"field": "mg", "type": "quantitative"}, "text": {"field": "note"}}},
    {"data": {"values": [{}]}, "mark": {"type": "rule", "color": "#1a1a1a", "strokeWidth": 2}, "encoding": {"x": {"datum": 14.3}, "x2": {"datum": 17.2}, "y": {"datum": 3.7}}},
    {"data": {"values": [{}]}, "mark": {"type": "text", "text": "valid range", "align": "left", "baseline": "middle", "fontSize": 14, "dx": 1, "color": "#1a1a1a"}, "encoding": {"x": {"datum": 17.2}, "y": {"datum": 3.7}}}
  ]
},
{
  "width": 242, "height": 242,
  "layer": [
    {"data": {"name": "contours"}, "transform": [{"filter": "datum.panel === 5"}], "mark": {"type": "line", "interpolate": "monotone", "clip": true, "color": "#1a1a1a"}, "encoding": {
      "x": {"field": "ca", "type": "quantitative", "scale": {"domain": [0, 60], "nice": false, "zero": false}, "axis": {"values": [0, 10, 20, 30, 40, 50, 60], "labelExpr": "datum.value % 20 === 0 ? datum.label : ''", "title": "[Ca²⁺] (mM)", "titlePadding": 8}},
      "y": {"field": "mg", "type": "quantitative", "scale": {"domain": [0, 60], "nice": false, "zero": false}, "axis": {"values": [0, 10, 20, 30, 40, 50, 60], "title": "[Mg²⁺] (mM)", "titlePadding": 20}},
      "detail": {"field": "level"}, "strokeWidth": {"field": "kind", "type": "nominal", "scale": {"domain": ["ref", "major", "minor"], "range": [3, 1.3, 0.75]}, "legend": null}}},
    {"data": {"values": [{}]}, "mark": {"type": "text", "text": "ΔKₛₚ (calcite & aragonite)", "fontSize": 12, "baseline": "middle", "color": "#1a1a1a"}, "encoding": {"x": {"datum": 30}, "y": {"datum": 62.7}}},
    {"data": {"name": "sites"}, "transform": [{"filter": "datum.site !== 'modern'"}], "mark": {"type": "circle", "size": 1060, "color": "#bdbdbd", "opacity": 1}, "encoding": {"x": {"field": "ca", "type": "quantitative"}, "y": {"field": "mg", "type": "quantitative"}}},
    {"data": {"name": "sites"}, "transform": [{"filter": "datum.site === 'modern'"}], "mark": {"type": "circle", "size": 95, "color": "#1a1a1a", "opacity": 1}, "encoding": {"x": {"field": "ca", "type": "quantitative"}, "y": {"field": "mg", "type": "quantitative"}}},
    {"data": {"name": "labels"}, "transform": [{"filter": "datum.panel === 5"}], "mark": {"type": "point", "filled": true, "fill": "#ffffff", "stroke": "#1a1a1a", "strokeWidth": 1, "size": 900, "opacity": 1}, "encoding": {"x": {"field": "ca", "type": "quantitative"}, "y": {"field": "mg", "type": "quantitative"}, "shape": {"field": "kind", "type": "nominal", "scale": {"domain": ["ref", "major", "minor"], "range": ["M-0.45,-0.4H0.45V0.4H-0.45Z", "M-1,-0.4H1V0.4H-1Z", "M-0.85,-0.4H0.85V0.4H-0.85Z"]}, "legend": null}, "strokeOpacity": {"field": "kind", "type": "nominal", "scale": {"domain": ["ref", "major", "minor"], "range": [1, 1, 0]}, "legend": null}}},
    {"data": {"name": "labels"}, "transform": [{"filter": "datum.panel === 5"}], "mark": {"type": "text", "fontSize": 11, "fontWeight": "bold", "color": "#1a1a1a", "baseline": "middle"}, "encoding": {"x": {"field": "ca", "type": "quantitative"}, "y": {"field": "mg", "type": "quantitative"}, "text": {"field": "level"}}},
    {"data": {"name": "notes"}, "transform": [{"filter": "datum.panel === 5 && datum.note === 'modern'"}], "mark": {"type": "text", "align": "left", "baseline": "middle", "fontSize": 13, "fontWeight": "bold", "color": "#1a1a1a"}, "encoding": {"x": {"field": "ca", "type": "quantitative"}, "y": {"field": "mg", "type": "quantitative"}, "text": {"field": "note"}}},
    {"data": {"name": "notes"}, "transform": [{"filter": "datum.panel === 5 && datum.note === 'mid-Cretaceous?'"}], "mark": {"type": "text", "align": "center", "baseline": "middle", "fontSize": 12, "fontWeight": "bold", "color": "#b3b3b3"}, "encoding": {"x": {"field": "ca", "type": "quantitative"}, "y": {"field": "mg", "type": "quantitative"}, "text": {"field": "note"}}},
    {"data": {"name": "notes"}, "transform": [{"filter": "datum.panel === 5 && datum.note !== 'modern' && datum.note !== 'mid-Cretaceous?'"}], "mark": {"type": "text", "align": "center", "baseline": "top", "fontSize": 12, "fontWeight": "bold", "color": "#b3b3b3", "lineBreak": "\n", "lineHeight": 11}, "encoding": {"x": {"field": "ca", "type": "quantitative"}, "y": {"field": "mg", "type": "quantitative"}, "text": {"field": "note"}}}
  ]
},
{
  "width": 242, "height": 242,
  "layer": [
    {"data": {"name": "contours"}, "transform": [{"filter": "datum.panel === 6"}], "mark": {"type": "line", "interpolate": "monotone", "clip": true, "color": "#1a1a1a"}, "encoding": {
      "x": {"field": "ca", "type": "quantitative", "scale": {"domain": [0, 60], "nice": false, "zero": false}, "axis": {"values": [0, 10, 20, 30, 40, 50, 60], "labelExpr": "datum.value % 20 === 0 ? datum.label : ''", "title": "[Ca²⁺] (mM)", "titlePadding": 8}},
      "y": {"field": "mg", "type": "quantitative", "scale": {"domain": [0, 60], "nice": false, "zero": false}, "axis": {"values": [0, 10, 20, 30, 40, 50, 60], "title": null}},
      "detail": {"field": "level"}, "strokeWidth": {"field": "kind", "type": "nominal", "scale": {"domain": ["ref", "major", "minor"], "range": [3, 1.3, 0.75]}, "legend": null}}},
    {"data": {"values": [{}]}, "mark": {"type": "text", "text": "ΔK₁", "fontSize": 12, "baseline": "middle", "color": "#1a1a1a"}, "encoding": {"x": {"datum": 30}, "y": {"datum": 62.7}}},
    {"data": {"values": [{}]}, "mark": {"type": "rule", "stroke": "#333333", "strokeWidth": 1.2, "strokeDash": [8, 6]}, "encoding": {"x": {"datum": -86.45}, "x2": {"datum": 221.2}, "y": {"datum": 68.68}}},
    {"data": {"values": [{}]}, "mark": {"type": "rule", "stroke": "#333333", "strokeWidth": 1.2, "strokeDash": [8, 6]}, "encoding": {"x": {"datum": -86.45}, "y": {"datum": 68.68}, "y2": {"datum": -7.09}}},
    {"data": {"values": [{}]}, "mark": {"type": "rule", "stroke": "#333333", "strokeWidth": 1.2, "strokeDash": [8, 6]}, "encoding": {"x": {"datum": -86.45}, "x2": {"datum": 221.2}, "y": {"datum": -7.09}}},
    {"data": {"values": [{}]}, "mark": {"type": "rect", "fill": "#ffffff", "stroke": "#1a1a1a", "strokeWidth": 1.5}, "encoding": {"x": {"datum": 4.79}, "x2": {"datum": 135.37}, "y": {"datum": 71.83}, "y2": {"datum": 64.81}}},
    {"data": {"values": [{}]}, "mark": {"type": "text", "text": "“MyAMI” specific ion interaction model (this study)", "fontSize": 20.5, "fontWeight": "bold", "align": "center", "baseline": "middle", "color": "#1a1a1a"}, "encoding": {"x": {"datum": 70.07}, "y": {"datum": 68.36}}},
    {"data": {"name": "sites"}, "transform": [{"filter": "datum.site !== 'modern'"}], "mark": {"type": "circle", "size": 1060, "color": "#bdbdbd", "opacity": 1}, "encoding": {"x": {"field": "ca", "type": "quantitative"}, "y": {"field": "mg", "type": "quantitative"}}},
    {"data": {"name": "sites"}, "transform": [{"filter": "datum.site === 'modern'"}], "mark": {"type": "circle", "size": 95, "color": "#1a1a1a", "opacity": 1}, "encoding": {"x": {"field": "ca", "type": "quantitative"}, "y": {"field": "mg", "type": "quantitative"}}},
    {"data": {"name": "labels"}, "transform": [{"filter": "datum.panel === 6"}], "mark": {"type": "point", "filled": true, "fill": "#ffffff", "stroke": "#1a1a1a", "strokeWidth": 1, "size": 900, "opacity": 1}, "encoding": {"x": {"field": "ca", "type": "quantitative"}, "y": {"field": "mg", "type": "quantitative"}, "shape": {"field": "kind", "type": "nominal", "scale": {"domain": ["ref", "major", "minor"], "range": ["M-0.45,-0.4H0.45V0.4H-0.45Z", "M-1,-0.4H1V0.4H-1Z", "M-0.85,-0.4H0.85V0.4H-0.85Z"]}, "legend": null}, "strokeOpacity": {"field": "kind", "type": "nominal", "scale": {"domain": ["ref", "major", "minor"], "range": [1, 1, 0]}, "legend": null}}},
    {"data": {"name": "labels"}, "transform": [{"filter": "datum.panel === 6"}], "mark": {"type": "text", "fontSize": 11, "fontWeight": "bold", "color": "#1a1a1a", "baseline": "middle"}, "encoding": {"x": {"field": "ca", "type": "quantitative"}, "y": {"field": "mg", "type": "quantitative"}, "text": {"field": "level"}}},
    {"data": {"name": "notes"}, "transform": [{"filter": "datum.panel === 6 && datum.note === 'modern'"}], "mark": {"type": "text", "align": "left", "baseline": "middle", "fontSize": 13, "fontWeight": "bold", "color": "#1a1a1a"}, "encoding": {"x": {"field": "ca", "type": "quantitative"}, "y": {"field": "mg", "type": "quantitative"}, "text": {"field": "note"}}},
    {"data": {"name": "notes"}, "transform": [{"filter": "datum.panel === 6 && datum.note === 'mid-Cretaceous?'"}], "mark": {"type": "text", "align": "center", "baseline": "middle", "fontSize": 12, "fontWeight": "bold", "color": "#b3b3b3"}, "encoding": {"x": {"field": "ca", "type": "quantitative"}, "y": {"field": "mg", "type": "quantitative"}, "text": {"field": "note"}}},
    {"data": {"name": "notes"}, "transform": [{"filter": "datum.panel === 6 && datum.note !== 'modern' && datum.note !== 'mid-Cretaceous?'"}], "mark": {"type": "text", "align": "center", "baseline": "top", "fontSize": 12, "fontWeight": "bold", "color": "#b3b3b3", "lineBreak": "\n", "lineHeight": 11}, "encoding": {"x": {"field": "ca", "type": "quantitative"}, "y": {"field": "mg", "type": "quantitative"}, "text": {"field": "note"}}}
  ]
},
{
  "width": 242, "height": 242,
  "layer": [
    {"data": {"name": "contours"}, "transform": [{"filter": "datum.panel === 7"}], "mark": {"type": "line", "interpolate": "monotone", "clip": true, "color": "#1a1a1a"}, "encoding": {
      "x": {"field": "ca", "type": "quantitative", "scale": {"domain": [0, 60], "nice": false, "zero": false}, "axis": {"values": [0, 10, 20, 30, 40, 50, 60], "labelExpr": "datum.value % 20 === 0 ? datum.label : ''", "title": "[Ca²⁺] (mM)", "titlePadding": 8}},
      "y": {"field": "mg", "type": "quantitative", "scale": {"domain": [0, 60], "nice": false, "zero": false}, "axis": {"values": [0, 10, 20, 30, 40, 50, 60], "title": null}},
      "detail": {"field": "level"}, "strokeWidth": {"field": "kind", "type": "nominal", "scale": {"domain": ["ref", "major", "minor"], "range": [3, 1.3, 0.75]}, "legend": null}}},
    {"data": {"values": [{}]}, "mark": {"type": "text", "text": "ΔK₂", "fontSize": 12, "baseline": "middle", "color": "#1a1a1a"}, "encoding": {"x": {"datum": 30}, "y": {"datum": 62.7}}},
    {"data": {"name": "sites"}, "transform": [{"filter": "datum.site !== 'modern'"}], "mark": {"type": "circle", "size": 1060, "color": "#bdbdbd", "opacity": 1}, "encoding": {"x": {"field": "ca", "type": "quantitative"}, "y": {"field": "mg", "type": "quantitative"}}},
    {"data": {"name": "sites"}, "transform": [{"filter": "datum.site === 'modern'"}], "mark": {"type": "circle", "size": 95, "color": "#1a1a1a", "opacity": 1}, "encoding": {"x": {"field": "ca", "type": "quantitative"}, "y": {"field": "mg", "type": "quantitative"}}},
    {"data": {"name": "labels"}, "transform": [{"filter": "datum.panel === 7"}], "mark": {"type": "point", "filled": true, "fill": "#ffffff", "stroke": "#1a1a1a", "strokeWidth": 1, "size": 900, "opacity": 1}, "encoding": {"x": {"field": "ca", "type": "quantitative"}, "y": {"field": "mg", "type": "quantitative"}, "shape": {"field": "kind", "type": "nominal", "scale": {"domain": ["ref", "major", "minor"], "range": ["M-0.45,-0.4H0.45V0.4H-0.45Z", "M-1,-0.4H1V0.4H-1Z", "M-0.85,-0.4H0.85V0.4H-0.85Z"]}, "legend": null}, "strokeOpacity": {"field": "kind", "type": "nominal", "scale": {"domain": ["ref", "major", "minor"], "range": [1, 1, 0]}, "legend": null}}},
    {"data": {"name": "labels"}, "transform": [{"filter": "datum.panel === 7"}], "mark": {"type": "text", "fontSize": 11, "fontWeight": "bold", "color": "#1a1a1a", "baseline": "middle"}, "encoding": {"x": {"field": "ca", "type": "quantitative"}, "y": {"field": "mg", "type": "quantitative"}, "text": {"field": "level"}}},
    {"data": {"name": "notes"}, "transform": [{"filter": "datum.panel === 7 && datum.note === 'modern'"}], "mark": {"type": "text", "align": "left", "baseline": "middle", "fontSize": 13, "fontWeight": "bold", "color": "#1a1a1a"}, "encoding": {"x": {"field": "ca", "type": "quantitative"}, "y": {"field": "mg", "type": "quantitative"}, "text": {"field": "note"}}},
    {"data": {"name": "notes"}, "transform": [{"filter": "datum.panel === 7 && datum.note === 'mid-Cretaceous?'"}], "mark": {"type": "text", "align": "center", "baseline": "middle", "fontSize": 12, "fontWeight": "bold", "color": "#b3b3b3"}, "encoding": {"x": {"field": "ca", "type": "quantitative"}, "y": {"field": "mg", "type": "quantitative"}, "text": {"field": "note"}}},
    {"data": {"name": "notes"}, "transform": [{"filter": "datum.panel === 7 && datum.note !== 'modern' && datum.note !== 'mid-Cretaceous?'"}], "mark": {"type": "text", "align": "center", "baseline": "top", "fontSize": 12, "fontWeight": "bold", "color": "#b3b3b3", "lineBreak": "\n", "lineHeight": 11}, "encoding": {"x": {"field": "ca", "type": "quantitative"}, "y": {"field": "mg", "type": "quantitative"}, "text": {"field": "note"}}}
  ]
},
{
  "width": 242, "height": 242,
  "layer": [
    {"data": {"name": "valid"}, "transform": [{"filter": "datum.panel === 8"}], "mark": {"type": "rect", "color": "#dedede"}, "encoding": {"x": {"field": "ca", "type": "quantitative"}, "x2": {"field": "ca2"}, "y": {"field": "mg", "type": "quantitative"}, "y2": {"field": "mg2"}}},
    {"data": {"name": "contours"}, "transform": [{"filter": "datum.panel === 8"}], "mark": {"type": "line", "interpolate": "monotone", "clip": true, "color": "#1a1a1a"}, "encoding": {
      "x": {"field": "ca", "type": "quantitative", "scale": {"domain": [0, 60], "nice": false, "zero": false}, "axis": {"values": [0, 10, 20, 30, 40, 50, 60], "labelExpr": "datum.value % 20 === 0 ? datum.label : ''", "title": "[Ca²⁺] (mM)", "titlePadding": 8}},
      "y": {"field": "mg", "type": "quantitative", "scale": {"domain": [0, 60], "nice": false, "zero": false}, "axis": {"values": [0, 10, 20, 30, 40, 50, 60], "title": null}},
      "detail": {"field": "level"}, "strokeWidth": {"field": "kind", "type": "nominal", "scale": {"domain": ["ref", "major", "minor"], "range": [3, 1.3, 0.75]}, "legend": null}}},
    {"data": {"values": [{}]}, "mark": {"type": "text", "text": "ΔKₛₚ (calcite & aragonite)", "fontSize": 12, "baseline": "middle", "color": "#1a1a1a"}, "encoding": {"x": {"datum": 30}, "y": {"datum": 62.7}}},
    {"data": {"name": "sites"}, "transform": [{"filter": "datum.site !== 'modern'"}], "mark": {"type": "circle", "size": 1060, "color": "#bdbdbd", "opacity": 1}, "encoding": {"x": {"field": "ca", "type": "quantitative"}, "y": {"field": "mg", "type": "quantitative"}}},
    {"data": {"name": "sites"}, "transform": [{"filter": "datum.site === 'modern'"}], "mark": {"type": "circle", "size": 95, "color": "#1a1a1a", "opacity": 1}, "encoding": {"x": {"field": "ca", "type": "quantitative"}, "y": {"field": "mg", "type": "quantitative"}}},
    {"data": {"name": "labels"}, "transform": [{"filter": "datum.panel === 8"}], "mark": {"type": "point", "filled": true, "fill": "#ffffff", "stroke": "#1a1a1a", "strokeWidth": 1, "size": 900, "opacity": 1}, "encoding": {"x": {"field": "ca", "type": "quantitative"}, "y": {"field": "mg", "type": "quantitative"}, "shape": {"field": "kind", "type": "nominal", "scale": {"domain": ["ref", "major", "minor"], "range": ["M-0.45,-0.4H0.45V0.4H-0.45Z", "M-1,-0.4H1V0.4H-1Z", "M-0.85,-0.4H0.85V0.4H-0.85Z"]}, "legend": null}, "strokeOpacity": {"field": "kind", "type": "nominal", "scale": {"domain": ["ref", "major", "minor"], "range": [1, 1, 0]}, "legend": null}}},
    {"data": {"name": "labels"}, "transform": [{"filter": "datum.panel === 8"}], "mark": {"type": "text", "fontSize": 11, "fontWeight": "bold", "color": "#1a1a1a", "baseline": "middle"}, "encoding": {"x": {"field": "ca", "type": "quantitative"}, "y": {"field": "mg", "type": "quantitative"}, "text": {"field": "level"}}},
    {"data": {"name": "notes"}, "transform": [{"filter": "datum.panel === 8 && datum.note === 'modern'"}], "mark": {"type": "text", "align": "left", "baseline": "middle", "fontSize": 13, "fontWeight": "bold", "color": "#1a1a1a"}, "encoding": {"x": {"field": "ca", "type": "quantitative"}, "y": {"field": "mg", "type": "quantitative"}, "text": {"field": "note"}}},
    {"data": {"name": "notes"}, "transform": [{"filter": "datum.panel === 8 && datum.note === 'mid-Cretaceous?'"}], "mark": {"type": "text", "align": "center", "baseline": "middle", "fontSize": 12, "fontWeight": "bold", "color": "#b3b3b3"}, "encoding": {"x": {"field": "ca", "type": "quantitative"}, "y": {"field": "mg", "type": "quantitative"}, "text": {"field": "note"}}},
    {"data": {"name": "notes"}, "transform": [{"filter": "datum.panel === 8 && datum.note !== 'modern' && datum.note !== 'mid-Cretaceous?'"}], "mark": {"type": "text", "align": "center", "baseline": "top", "fontSize": 12, "fontWeight": "bold", "color": "#b3b3b3", "lineBreak": "\n", "lineHeight": 11}, "encoding": {"x": {"field": "ca", "type": "quantitative"}, "y": {"field": "mg", "type": "quantitative"}, "text": {"field": "note"}}}
  ]
}
]
}
